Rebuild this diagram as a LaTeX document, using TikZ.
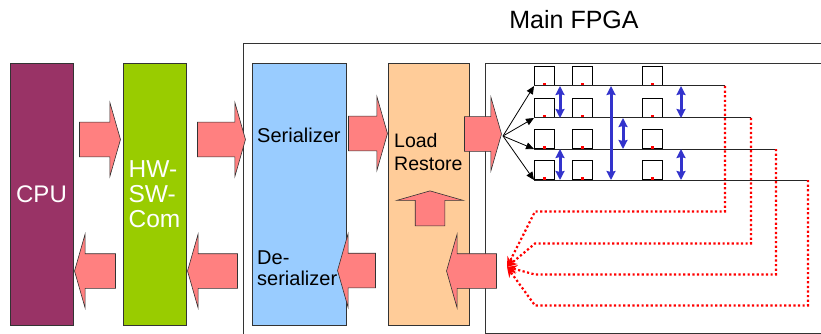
\documentclass[tikz,border=0pt]{standalone}
\usepackage{fontspec}
\setmainfont{Liberation Sans}
\usetikzlibrary{
  arrows.meta,
  shapes.arrows,
  positioning,
  calc
}
\definecolor{fpCPU}{HTML}{993366}
\definecolor{fpCom}{HTML}{99CC00}
\definecolor{fpSer}{HTML}{99CCFF}
\definecolor{fpLoad}{HTML}{FFCC99}
\definecolor{fpArrow}{HTML}{FF8080}
\definecolor{fpFrame}{HTML}{333333}
\definecolor{fpSwap}{HTML}{3333CC}
\definecolor{fpScan}{HTML}{FF0000}
\tikzset{
  fpbox/.style={
    draw=fpFrame, line width=0.8pt, minimum height=262pt, inner sep=0pt, outer sep=0pt,
    align=left
  },
  cpubox/.style={fpbox, fill=fpCPU, minimum width=63pt, text=white, font=\fontsize{24}{28}\selectfont},
  combox/.style={fpbox, fill=fpCom, minimum width=63pt, text=white, font=\fontsize{24.5}{25}\selectfont},
  serbox/.style={fpbox, fill=fpSer, minimum width=94pt},
  loadbox/.style={fpbox, fill=fpLoad, minimum width=81pt},
  frame/.style={draw=fpFrame, line width=0.8pt, inner sep=0pt, outer sep=0pt, anchor=north west},
  lbl/.style={inner sep=0pt, anchor=west, align=left},
  bigarrow/.style={
    single arrow, draw=fpFrame, fill=fpArrow, line width=0.6pt, inner xsep=0pt, inner ysep=17pt,
    single arrow head extend=19.5pt, single arrow tip angle=148
  },
  reg/.style={draw=black, line width=1.1pt, minimum width=20pt, minimum height=19pt, inner sep=0pt, anchor=south west},
  tap/.style={fill=fpScan, minimum size=3pt, inner sep=0pt, anchor=south},
  fanout/.style={-{Triangle[length=8pt, width=7pt]}, line width=0.8pt},
  regline/.style={line width=1pt, black!85},
  regswap/.style={{Stealth[length=9pt, width=9pt, inset=1pt]}-{Stealth[length=9pt, width=9pt, inset=1pt]}, line width=3pt, fpSwap},
  scan/.style={-{Stealth[length=10pt, width=9pt]}, line width=2.2pt, fpScan, dash pattern=on 2.2pt off 2.4pt}
}
\begin{document}
\begin{tikzpicture}[x=1pt, y=-1pt]
  \useasboundingbox (0,0) rectangle (821,334);
  % FPGA frame and register field
  \node[frame, minimum width=620pt, minimum height=320pt] (fpga) at (243,43) {};
  \node[font=\fontsize{25}{30}\selectfont] (fpgatitle) at (574,20) {Main FPGA};
  \node[frame, minimum width=400pt, minimum height=270pt] (regs) at (485,63) {};

  % main blocks
  \node[cpubox, anchor=north west] (cpu) at (10,63) {CPU};
  \node[combox, right=50pt of cpu] (com) {HW-\\SW-\\Com};
  \node[serbox, right=66pt of com] (ser) {};
  \node[loadbox, right=42pt of ser] (load) {};
  \node[lbl, font=\fontsize{20}{21}\selectfont] (sertxt) at (257,135) {Serializer};
  \node[lbl, font=\fontsize{20}{21}\selectfont] (desertxt) at (257,268) {De-\\serializer};
  \node[lbl, font=\fontsize{19.5}{23}\selectfont] (loadtxt) at (394,152) {Load\\Restore};

  % data path arrows
  \node[bigarrow, minimum height=41pt] (cpu2com) at (97.5,139.5) {};
  \node[bigarrow, minimum height=48pt] (com2ser) at (219,139.5) {};
  \node[bigarrow, minimum height=39pt] (ser2load) at (365.5,133.5) {};
  \node[bigarrow, minimum height=37pt] (load2regs) at (480.5,134) {};
  \node[bigarrow, minimum height=41pt, rotate=180] (com2cpu) at (97.5,271) {};
  \node[bigarrow, minimum height=50pt, rotate=180] (ser2com) at (215,271) {};
  \node[bigarrow, minimum height=38pt, rotate=180] (load2ser) at (359,270.5) {};
  \node[bigarrow, minimum height=50pt, rotate=180] (regs2load) at (474,271) {};
  \node[bigarrow, minimum height=35pt, inner ysep=14.5pt, single arrow head extend=18.5pt,
    rotate=90] (loadup) at (430,210.5) {};

  % register chains
  \coordinate (fan) at (503,136);
  \coordinate (conv) at (507,267);
  \foreach \r/\y/\e in {1/86/725, 2/118/751, 3/149/776, 4/180/808} {
    \coordinate (s\r) at (534,\y);
    \coordinate (e\r) at (\e,\y);
    \foreach \c/\x in {1/534, 2/572, 3/642} {
      \node[reg] (r\r\c) at (\x,\y) {};
      \node[tap] (t\r\c) at (r\r\c.south) {};
    }
    \draw[regline] (s\r) -- (e\r);
    \draw[fanout] (fan) -- (s\r);
  }
  \foreach \dx/\a/\b in {26/1/2, 26/3/4, 77/1/4, 89/2/3, 147/1/2, 147/3/4}
    \draw[regswap] ([xshift=\dx pt]s\a) -- ([xshift=\dx pt]s\b);

  % scan chain back to load/restore
  \foreach \i in {1,...,4}
    \draw[scan] (e\i) |- ($(s\i)+(1,125.5)$) -- (conv);
\end{tikzpicture}
\end{document}
